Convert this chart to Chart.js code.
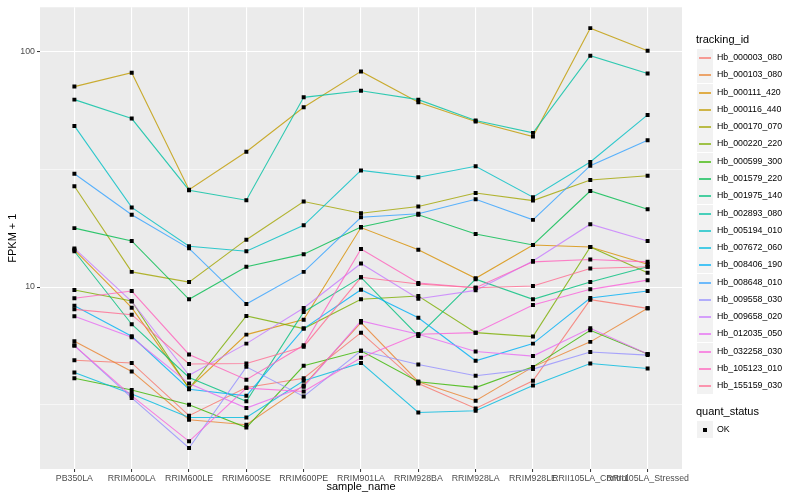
<!DOCTYPE html>
<html>
<head>
<meta charset="utf-8">
<script src="https://cdn.jsdelivr.net/npm/chart.js@4.4.1/dist/chart.umd.min.js"></script>
<style>
  html, body { margin: 0; padding: 0; background: #fff; }
  #wrap { position: relative; width: 800px; height: 500px; font-family: "Liberation Sans", Arial, sans-serif; }
  #chart { position: absolute; left: 0; top: 0; }
  .lg-title { position: absolute; left: 696px; font-size: 11px; line-height: 13px; color: #000; }
  .lg-item { position: absolute; left: 696px; height: 17px; width: 100px; }
  .lg-key { position: absolute; left: 1px; top: 0; width: 16px; height: 17px; background: #F2F2F2; }
  .lg-line { position: absolute; left: 2px; top: 8px; width: 12px; height: 2px; }
  .lg-dot { position: absolute; left: 6px; top: 7px; width: 4px; height: 4px; background: #000; }
  .lg-label { position: absolute; left: 21px; top: 0; line-height: 17px; font-size: 8.8px; color: #000; white-space: nowrap; }
</style>
</head>
<body>
<div id="wrap">
  <canvas id="chart" width="800" height="500"></canvas>
  <div id="legend"></div>
</div>
<script>
// ---- data ----
const samples = ['PB350LA', 'RRIM600LA', 'RRIM600LE', 'RRIM600SE', 'RRIM600PE', 'RRIM901LA',
  'RRIM928BA', 'RRIM928LA', 'RRIM928LE', 'RRII105LA_Control', 'RRII105LA_Stressed'];

const trackingIds = ['Hb_000003_080', 'Hb_000103_080', 'Hb_000111_420', 'Hb_000116_440', 'Hb_000170_070',
  'Hb_000220_220', 'Hb_000599_300', 'Hb_001579_220', 'Hb_001975_140', 'Hb_002893_080',
  'Hb_005194_010', 'Hb_007672_060', 'Hb_008406_190', 'Hb_008648_010', 'Hb_009558_030',
  'Hb_009658_020', 'Hb_012035_050', 'Hb_032258_030', 'Hb_105123_010', 'Hb_155159_030'];

// FPKM + 1 per sample
const hb000003 = [4.89, 4.76, 2.84, 3.74, 4.10, 6.40, 3.89, 3.05, 4.00, 8.84, 8.12];
const hb000103 = [5.89, 4.38, 2.73, 2.60, 3.82, 7.06, 3.96, 3.29, 4.58, 5.85, 8.12];
const hb000111 = [14.4, 8.17, 3.72, 6.28, 7.27, 17.9, 14.4, 10.9, 15.1, 14.8, 12.5];
const hb000116 = [71.1, 81.5, 25.9, 37.6, 58.1, 82.5, 61.0, 50.5, 43.6, 126, 101];
const hb000170 = [26.8, 11.6, 10.5, 15.9, 23.1, 20.6, 22.0, 25.1, 23.3, 28.5, 29.7];
const hb000220 = [9.71, 8.72, 3.70, 7.54, 6.66, 8.87, 9.16, 6.40, 6.16, 14.8, 11.5];
const hb000599 = [4.10, 3.65, 3.16, 2.53, 4.63, 5.36, 3.96, 3.74, 4.58, 6.55, 5.19];
const hb001579 = [17.8, 15.7, 8.87, 12.2, 13.8, 18.0, 20.3, 16.8, 15.1, 25.6, 21.4];
const hb001975 = [14.2, 6.95, 4.13, 3.27, 7.84, 11.0, 6.20, 10.8, 8.87, 10.5, 12.2];
const hb002893 = [62.6, 52.0, 25.8, 23.4, 64.0, 68.3, 62.6, 51.0, 45.2, 96.2, 80.9];
const hb005194 = [48.4, 21.8, 14.9, 14.2, 18.3, 31.3, 29.3, 32.6, 24.1, 34.0, 53.9];
const hb007672 = [4.33, 3.51, 2.79, 2.79, 4.00, 4.76, 2.93, 2.98, 3.82, 4.73, 4.51];
const hb008406 = [8.33, 6.18, 3.68, 3.45, 6.66, 9.74, 7.41, 4.86, 5.75, 8.98, 9.62];
const hb008648 = [30.3, 20.3, 14.6, 8.47, 11.6, 19.8, 20.5, 23.6, 19.3, 32.8, 42.1];
const hb009558 = [5.64, 3.38, 2.07, 4.58, 3.43, 5.36, 4.69, 4.20, 4.48, 5.30, 5.14];
const hb009658 = [14.6, 8.68, 4.22, 5.75, 8.15, 12.6, 8.92, 9.68, 12.9, 18.5, 15.7];
const hb012035 = [7.51, 6.12, 3.89, 3.06, 3.77, 7.18, 6.30, 5.32, 5.09, 6.68, 5.19];
const hb032258 = [5.64, 3.45, 2.21, 3.72, 3.60, 5.01, 6.30, 6.40, 8.39, 9.78, 10.7];
const hb105123 = [8.96, 9.62, 5.17, 4.04, 5.66, 14.5, 10.4, 9.93, 12.8, 13.1, 12.8];
const hb155159 = [8.04, 7.63, 4.71, 4.73, 5.58, 11.0, 10.3, 9.93, 10.1, 12.0, 12.2];

const seriesValues = [hb000003, hb000103, hb000111, hb000116, hb000170, hb000220, hb000599,
  hb001579, hb001975, hb002893, hb005194, hb007672, hb008406, hb008648, hb009558,
  hb009658, hb012035, hb032258, hb105123, hb155159];

const majorBreaks = [10, 100];
const minorBreaks = [3.1623, 31.623];
const quantStatus = ['OK'];

// ggplot hue palette, 20 levels
const palette = ['#F8766D', '#EA8331', '#D89000', '#C09B00', '#A3A500', '#7CAE00', '#39B600',
  '#00BB4E', '#00BF7D', '#00C1A3', '#00BFC4', '#00BAE0', '#00B0F6', '#35A2FF', '#9590FF',
  '#C77CFF', '#E76BF3', '#FA62DB', '#FF62BC', '#FF6C91'];

function withAlpha(hex, a) {
  const n = parseInt(hex.slice(1), 16);
  return `rgba(${(n >> 16) & 255},${(n >> 8) & 255},${n & 255},${a})`;
}

// ---- chart ----
Chart.defaults.font.family = '"Liberation Sans", Arial, sans-serif';

const lineSets = trackingIds.map((id, i) => ({
  label: id,
  data: seriesValues[i].map((v, j) => ({ x: j, y: v })),
  borderColor: withAlpha(palette[i], 0.8),
  borderWidth: 1.1,
  pointRadius: 0,
  tension: 0,
  order: -i
}));

const pointSet = {
  label: 'OK',
  data: seriesValues.flatMap(vals => vals.map((v, j) => ({ x: j, y: v }))),
  showLine: false,
  pointStyle: 'rect',
  pointRadius: 2.8,
  pointBackgroundColor: '#000',
  pointBorderWidth: 0,
  order: -100
};

const panelBg = {
  id: 'panelBg',
  beforeDraw(chart) {
    const { ctx, chartArea: a } = chart;
    ctx.save();
    ctx.fillStyle = '#EBEBEB';
    ctx.fillRect(a.left, a.top, a.right - a.left, a.bottom - a.top);
    ctx.restore();
  }
};

const isMajor = v => majorBreaks.some(b => Math.abs(b - v) < 1e-6);

new Chart(document.getElementById('chart'), {
  type: 'line',
  data: { datasets: [...lineSets, pointSet] },
  options: {
    responsive: false,
    animation: false,
    layout: { padding: { top: 5, right: 118, left: 0, bottom: 0 } },
    plugins: { legend: { display: false }, tooltip: { enabled: false } },
    scales: {
      x: {
        type: 'linear',
        min: -0.6,
        max: 10.6,
        afterBuildTicks: s => { s.ticks = samples.map((_, i) => ({ value: i })); },
        afterFit: s => { s.height = 31; },
        ticks: {
          autoSkip: false, maxRotation: 0, minRotation: 0, padding: 1,
          color: '#4D4D4D', font: { size: 8.8 },
          callback: v => samples[v]
        },
        grid: { color: '#FFFFFF', lineWidth: 1.1, tickLength: 3, tickColor: '#333333', tickWidth: 1 },
        border: { display: false },
        title: { display: true, text: 'sample_name', color: '#000', font: { size: 11 }, padding: { top: 0, bottom: 6 } }
      },
      y: {
        type: 'logarithmic',
        min: 1.686,
        max: 154.5,
        afterBuildTicks: s => {
          s.ticks = [...minorBreaks, ...majorBreaks].sort((a, b) => a - b).map(v => ({ value: v }));
        },
        afterFit: s => { s.width = 40; },
        ticks: {
          padding: 2, color: '#4D4D4D', font: { size: 8.8 },
          callback: v => isMajor(v) ? String(Math.round(v)) : ''
        },
        grid: {
          color: '#FFFFFF',
          lineWidth: c => isMajor(c.tick.value) ? 1.1 : 0.55,
          tickLength: 3,
          tickColor: c => isMajor(c.tick.value) ? '#333333' : 'rgba(0,0,0,0)',
          tickWidth: 1
        },
        border: { display: false },
        title: { display: true, text: 'FPKM + 1', color: '#000', font: { size: 11 }, padding: { top: 6, bottom: 0 } }
      }
    }
  },
  plugins: [panelBg]
});

// ---- legend (ggplot style, right side) ----
const legend = document.getElementById('legend');
let html = '<div class="lg-title" style="top:33px">tracking_id</div>';
trackingIds.forEach((id, i) => {
  html += `<div class="lg-item" style="top:${Math.round(49 + i * 17.28)}px">` +
    `<div class="lg-key"><div class="lg-line" style="background:${withAlpha(palette[i], 0.7)}"></div></div>` +
    `<div class="lg-label">${id}</div></div>`;
});
html += '<div class="lg-title" style="top:405px">quant_status</div>';
quantStatus.forEach((s, i) => {
  html += `<div class="lg-item" style="top:${Math.round(421 + i * 17.28)}px">` +
    '<div class="lg-key"><div class="lg-dot"></div></div>' +
    `<div class="lg-label">${s}</div></div>`;
});
legend.innerHTML = html;
</script>
</body>
</html>
